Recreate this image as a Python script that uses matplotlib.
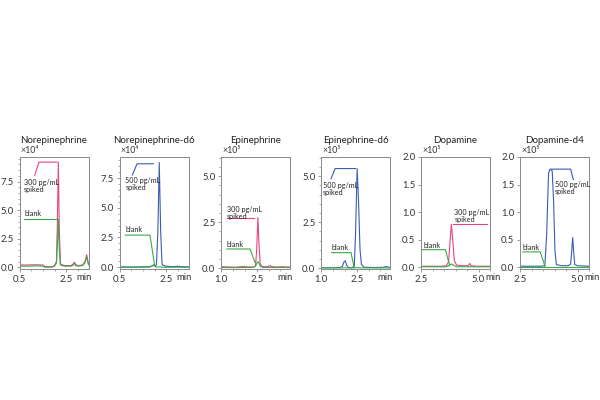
import matplotlib
matplotlib.use('Agg')
import matplotlib.pyplot as plt
from matplotlib.ticker import MultipleLocator, FixedLocator, FormatStrFormatter

plt.rcParams['font.family'] = ['Lato', 'DejaVu Sans']

PINK = '#e9447f'
BLUE = '#3c5cb0'
GREEN = '#3aa946'
GREY = '#8a8a8a'

titles = ['Norepinephrine', 'Norepinephrine-d6', 'Epinephrine',
          'Epinephrine-d6', 'Dopamine', 'Dopamine-d4']
scales = ['×10⁴', '×10⁴', '×10⁵', '×10⁵', '×10⁵', '×10⁵']

# retention time (min) and intensity
ne_t = [0.5, 0.8, 1.2, 1.5, 1.6, 1.9, 2.0, 2.08, 2.12, 2.16, 2.2, 2.25, 2.4,
        2.7, 2.8, 2.85, 2.9, 3.0, 3.2, 3.3, 3.37, 3.42, 3.45]
ne_spk = [0.2, 0.2, 0.22, 0.2, 0.05, 0.05, 0.15, 0.5, 4.0, 9.2, 3.5, 0.3, 0.15,
          0.15, 0.3, 0.45, 0.25, 0.15, 0.2, 0.5, 1.1, 0.6, 0.3]
ne_blk = [0.1, 0.1, 0.12, 0.1, 0.0, 0.02, 0.1, 0.4, 2.0, 4.2, 1.6, 0.2, 0.1,
          0.1, 0.2, 0.35, 0.15, 0.1, 0.15, 0.4, 0.9, 0.5, 0.2]

ne6_t = [0.5, 1.0, 1.5, 1.8, 1.9, 1.95, 2.0, 2.08, 2.14, 2.2, 2.26, 2.32, 2.5,
         2.8, 3.0, 3.2, 3.45]
ne6_spk = [0.02, 0.02, 0.03, 0.05, 0.12, 0.18, 0.1, 0.2, 3.0, 8.8, 3.0, 0.2,
           0.08, 0.05, 0.08, 0.04, 0.03]
ne6_blk = [0.0, 0.0, 0.0, 0.02, 0.1, 0.2, 0.1, 0.02, 0.02, 0.03, 0.02, 0.0,
           0.0, 0.0, 0.0, 0.0, 0.0]

ep_t = [1.0, 1.3, 1.6, 1.9, 2.2, 2.35, 2.45, 2.5, 2.55, 2.6, 2.65, 2.75, 2.9,
        3.0, 3.06, 3.12, 3.3, 3.6, 3.9]
ep_spk = [0.08, 0.06, 0.05, 0.08, 0.06, 0.05, 0.1, 1.0, 2.75, 1.2, 0.2, 0.08,
          0.07, 0.1, 0.14, 0.08, 0.06, 0.07, 0.06]
ep_blk = [0.03, 0.03, 0.02, 0.03, 0.03, 0.05, 0.1, 0.25, 0.35, 0.25, 0.1, 0.03,
          0.03, 0.03, 0.04, 0.03, 0.03, 0.03, 0.03]

ep6_t = [1.0, 1.4, 1.8, 1.9, 1.97, 2.02, 2.08, 2.15, 2.3, 2.4, 2.45, 2.52,
         2.58, 2.64, 2.7, 2.8, 3.0, 3.3, 3.6, 3.75, 3.9]
ep6_spk = [0.02, 0.02, 0.03, 0.1, 0.35, 0.4, 0.15, 0.03, 0.02, 0.1, 1.8, 5.42,
           3.6, 1.0, 0.2, 0.05, 0.04, 0.03, 0.04, 0.08, 0.03]
ep6_blk = [0.01, 0.01, 0.01, 0.01, 0.02, 0.02, 0.01, 0.01, 0.01, 0.01, 0.02,
           0.03, 0.02, 0.01, 0.01, 0.01, 0.01, 0.01, 0.01, 0.01, 0.01]

do_t = [2.5, 3.0, 3.4, 3.6, 3.7, 3.76, 3.82, 3.88, 3.95, 4.05, 4.3, 4.55,
        4.62, 4.68, 4.9, 5.2, 5.5]
do_spk = [0.02, 0.02, 0.02, 0.03, 0.1, 0.45, 0.78, 0.5, 0.12, 0.04, 0.03, 0.03,
          0.07, 0.03, 0.02, 0.02, 0.02]
do_blk = [0.01, 0.01, 0.01, 0.01, 0.03, 0.05, 0.06, 0.05, 0.03, 0.01, 0.01,
          0.01, 0.01, 0.01, 0.01, 0.01, 0.01]

do4_t = [2.5, 3.0, 3.4, 3.58, 3.66, 3.74, 3.8, 3.9, 3.96, 4.02, 4.08, 4.3,
         4.6, 4.7, 4.75, 4.79, 4.83, 4.88, 5.0, 5.5]
do4_spk = [0.02, 0.02, 0.02, 0.03, 0.6, 1.7, 1.78, 1.75, 1.2, 0.3, 0.05, 0.03,
           0.03, 0.06, 0.3, 0.54, 0.3, 0.05, 0.03, 0.02]
do4_blk = [0.005] * len(do4_t)

traces = [(ne_t, ne_spk, ne_blk, PINK), (ne6_t, ne6_spk, ne6_blk, BLUE),
          (ep_t, ep_spk, ep_blk, PINK), (ep6_t, ep6_spk, ep6_blk, BLUE),
          (do_t, do_spk, do_blk, PINK), (do4_t, do4_spk, do4_blk, BLUE)]

xlims = [(0.5, 3.45), (0.5, 3.45), (1.0, 3.9), (1.0, 3.9), (2.5, 5.5), (2.5, 5.5)]
ylims = [(-0.15, 9.65), (-0.15, 9.27), (-0.05, 6.05), (-0.05, 6.05),
         (-0.03, 2.0), (-0.03, 2.0)]
xticks = [[0.5, 2.5], [0.5, 2.5], [1.0, 2.5], [1.0, 2.5], [2.5, 5.0], [2.5, 5.0]]
ymajor = [2.5, 2.5, 2.5, 2.5, 0.5, 0.5]

fig = plt.figure(figsize=(6, 4), dpi=100)
lefts = [19.5, 119.5, 221, 321, 421, 520]

axes = []
for i in range(6):
    ax = fig.add_axes([lefts[i] / 600, (400 - 269) / 400, 69 / 600, 112 / 400])
    t, spk, blk, col = traces[i]
    ax.plot(t, spk, color=col, lw=0.8)
    ax.plot(t, blk, color=GREEN, lw=0.8)
    ax.set_xlim(*xlims[i])
    ax.set_ylim(*ylims[i])
    ax.xaxis.set_major_locator(FixedLocator(xticks[i]))
    ax.xaxis.set_minor_locator(MultipleLocator(0.5))
    ax.yaxis.set_major_locator(MultipleLocator(ymajor[i]))
    if ymajor[i] == 2.5:
        ax.yaxis.set_minor_locator(MultipleLocator(0.5))
    ax.xaxis.set_major_formatter(FormatStrFormatter('%.1f'))
    ax.yaxis.set_major_formatter(FormatStrFormatter('%.1f'))
    for s in ax.spines.values():
        s.set_color(GREY)
        s.set_linewidth(0.7)
    ax.tick_params(which='major', direction='out', length=2.5, width=0.6,
                   color=GREY, labelsize=6.8, labelcolor='#333333', pad=1.5)
    ax.tick_params(which='minor', direction='out', length=1.5, width=0.5,
                   color=GREY)
    ax.text(0.5, 1.15, titles[i], transform=ax.transAxes, ha='center',
            va='center', fontsize=7, color='#222222')
    ax.text(0.02, 1.055, scales[i], transform=ax.transAxes, ha='left',
            va='center', fontsize=6.3, color='#333333')
    if i < 4:
        ax.text(0.93, -0.035, 'min', transform=ax.transAxes, ha='center',
                va='top', fontsize=6.8, color='#333333')
    else:
        ax.text(0.94, -0.035, 'min', transform=ax.transAxes, ha='left',
                va='top', fontsize=6.8, color='#333333')
    axes.append(ax)


def note(ax, xs, ys, col, txt, tx, ty):
    ax.plot(xs, ys, color=col, lw=0.8, clip_on=False)
    ax.text(tx, ty, txt, color='#222222', fontsize=5.2, ha='left', va='top',
            linespacing=1.0)


# leader lines and labels
note(axes[0], [1.15, 1.33, 2.1], [8.05, 9.2, 9.2], PINK, '300 pg/mL\nspiked', 0.7, 7.75)
note(axes[0], [0.7, 2.1], [4.2, 4.2], GREEN, 'blank', 0.7, 5.0)

note(axes[1], [1.05, 1.25, 1.95], [7.75, 8.7, 8.7], BLUE, '500 pg/mL\nspiked', 0.75, 7.55)
note(axes[1], [0.75, 1.8, 2.0], [2.7, 2.7, 0.2], GREEN, 'blank', 0.75, 3.5)

note(axes[2], [1.25, 2.38], [2.75, 2.75], PINK, '300 pg/mL\nspiked', 1.25, 3.4)
note(axes[2], [1.25, 2.22, 2.43], [1.04, 1.04, 0.3], GREEN, 'blank', 1.25, 1.5)

note(axes[3], [1.42, 1.59, 2.45], [4.86, 5.42, 5.42], BLUE, '500 pg/mL\nspiked', 1.08, 4.7)
note(axes[3], [1.45, 2.26, 2.39], [0.84, 0.84, 0.05], GREEN, 'blank', 1.45, 1.3)

note(axes[4], [3.88, 5.36], [0.78, 0.78], PINK, '300 pg/mL\nspiked', 3.95, 1.06)
note(axes[4], [2.55, 3.56, 3.75], [0.32, 0.32, 0.03], GREEN, 'blank', 2.6, 0.46)

note(axes[5], [3.85, 4.7, 4.82], [1.78, 1.78, 1.59], BLUE, '500 pg/mL\nspiked', 4.01, 1.56)
note(axes[5], [2.63, 3.38, 3.6], [0.28, 0.28, 0.0], GREEN, 'blank', 2.63, 0.42)

fig.savefig('out.png', dpi=100)
